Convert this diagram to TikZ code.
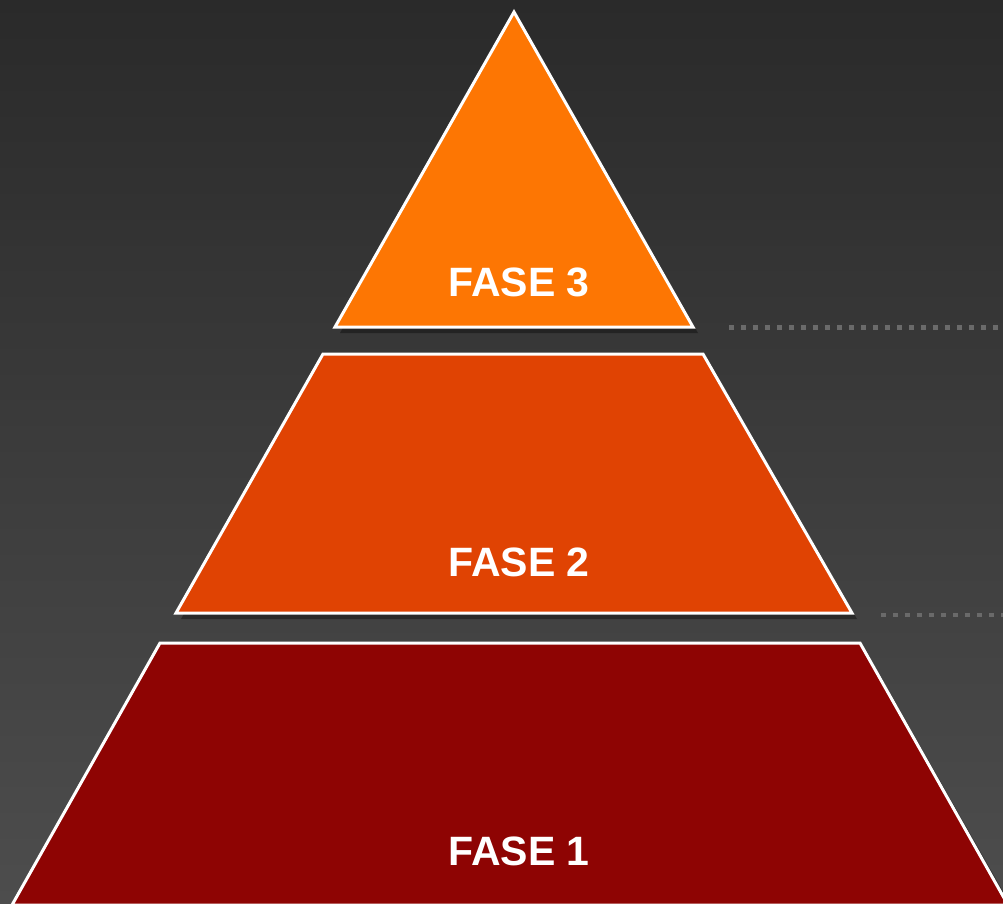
\documentclass[tikz,border=0pt]{standalone}
\usepackage{fontspec}
\setmainfont{Liberation Sans}
\definecolor{bgtop}{HTML}{2A2A2A}
\definecolor{bgbot}{HTML}{4D4D4D}
\definecolor{tier3}{HTML}{FD7603}
\definecolor{tier2}{HTML}{E04303}
\definecolor{tier1}{HTML}{8E0403}
\definecolor{dotgray}{HTML}{6A6A6A}
\begin{document}
\begin{tikzpicture}[x=1pt,y=-1pt,
  tier/.style={draw=white,line width=3pt,line join=miter},
  shadowed/.style={fill=black,opacity=0.35},
  label/.style={text=white,font=\fontsize{41}{41}\selectfont\bfseries,anchor=base},
  guide/.style={draw=dotgray,line width=4.5pt,dash pattern=on 4.5pt off 7.5pt}]
  % background
  \shade[top color=bgtop,bottom color=bgbot] (0,0) rectangle (1003,903);
  \useasboundingbox (0,0) rectangle (1003,903);
  % dotted guide lines
  \coordinate (g3a) at (729,327.5);
  \coordinate (g3b) at (1003,327.5);
  \coordinate (g2a) at (881,615);
  \coordinate (g2b) at (1003,615);
  \draw[guide] (g3a) -- (g3b);
  \draw[guide] (g2a) -- (g2b);
  % shadows
  \begin{scope}[shift={(5,6)}]
    \fill[shadowed] (514,12) -- (693,327) -- (335,327) -- cycle;
    \fill[shadowed] (323,354) -- (703,354) -- (852,613) -- (176,613) -- cycle;
    \fill[shadowed] (160,643) -- (860,643) -- (1008,903) -- (12,903) -- cycle;
  \end{scope}
  % tiers
  \filldraw[tier,fill=tier3] (514,12) -- (693,327) -- (335,327) -- cycle;
  \filldraw[tier,fill=tier2] (323,354) -- (703,354) -- (852,613) -- (176,613) -- cycle;
  \filldraw[tier,fill=tier1] (160,643) -- (860,643) -- (1008,905) -- (12,905) -- cycle;
  % labels
  \node[label] (f3) at (519,296) {FASE 3};
  \node[label] (f2) at (519,576) {FASE 2};
  \node[label] (f1) at (519,865) {FASE 1};
\end{tikzpicture}
\end{document}
